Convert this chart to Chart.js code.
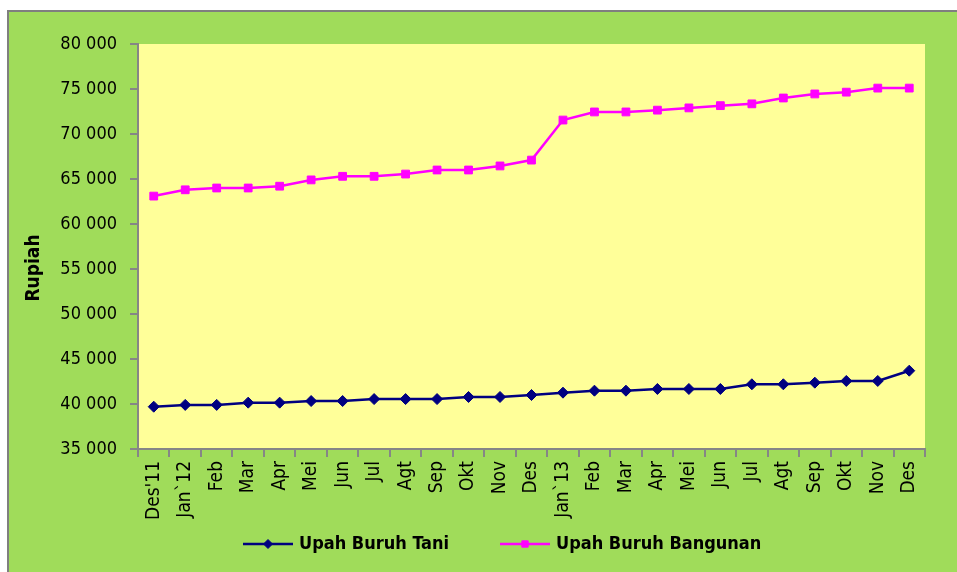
<!DOCTYPE html>
<html>
<head>
<meta charset="utf-8">
<script src="https://cdn.jsdelivr.net/npm/chart.js@4.4.1/dist/chart.umd.min.js"></script>
<style>
  html, body { margin: 0; padding: 0; background: #fff; overflow: hidden; }
  #frame {
    position: absolute; left: 7px; top: 10px; width: 980px; height: 600px;
    background: #a0dc5a; border-left: 2px solid #7f7f7f; border-top: 2px solid #7f7f7f;
  }
  #chart { position: absolute; left: 0; top: 0; }
</style>
</head>
<body>
<div id="frame"></div>
<canvas id="chart" width="957" height="572"></canvas>
<script>
const months = ["Des'11", 'Jan`12', 'Feb', 'Mar', 'Apr', 'Mei', 'Jun', 'Jul', 'Agt', 'Sep', 'Okt', 'Nov', 'Des',
  'Jan`13', 'Feb', 'Mar', 'Apr', 'Mei', 'Jun', 'Jul', 'Agt', 'Sep', 'Okt', 'Nov', 'Des'];

const upahTani = [39700, 39900, 39900, 40150, 40150, 40330, 40330, 40550, 40550, 40550, 40780, 40780, 41000,
  41260, 41480, 41480, 41670, 41670, 41670, 42190, 42190, 42370, 42560, 42560, 43700];

const upahBangunan = [63100, 63800, 64000, 64000, 64200, 64900, 65300, 65300, 65550, 66000, 66000, 66450, 67100,
  71550, 72450, 72450, 72650, 72900, 73150, 73350, 74000, 74450, 74650, 75100, 75100];

const yMin = 35000;
const yMax = 80000;
const yStep = 5000;

const FONT = '"DejaVu Sans Condensed", "DejaVu Sans", sans-serif';
const AXIS_GREY = '#868686';

// y title and legend drawn by hand so they sit where the original has them
const extras = {
  id: 'extras',
  afterDraw(chart) {
    const ctx = chart.ctx;
    ctx.save();
    ctx.fillStyle = '#000';
    ctx.font = 'bold 19px ' + FONT;
    ctx.textAlign = 'center';
    ctx.textBaseline = 'middle';
    ctx.translate(34, 268);
    ctx.rotate(-Math.PI / 2);
    ctx.fillText('Rupiah', 0, 0);
    ctx.restore();

    const starts = [243, 500];
    const y = 544;
    chart.data.datasets.forEach((ds, i) => {
      const x = starts[i];
      ctx.save();
      ctx.strokeStyle = ds.borderColor;
      ctx.lineWidth = ds.borderWidth;
      ctx.beginPath();
      ctx.moveTo(x, y);
      ctx.lineTo(x + 50, y);
      ctx.stroke();
      ctx.fillStyle = ds.pointBackgroundColor;
      ctx.strokeStyle = ds.pointBorderColor;
      ctx.lineWidth = 1;
      Chart.helpers.drawPoint(ctx, { pointStyle: ds.pointStyle, radius: ds.pointRadius - 1, borderWidth: 1 }, x + 25, y);
      ctx.fillStyle = '#000';
      ctx.font = 'bold 18px ' + FONT;
      ctx.textAlign = 'left';
      ctx.textBaseline = 'middle';
      ctx.fillText(ds.label, x + 56, y);
      ctx.restore();
    });
  }
};

const plotBg = {
  id: 'plotBg',
  beforeDraw(chart) {
    const a = chart.chartArea;
    chart.ctx.save();
    chart.ctx.fillStyle = '#ffff99';
    chart.ctx.fillRect(a.left, a.top, a.right - a.left, a.bottom - a.top);
    chart.ctx.restore();
  }
};

new Chart(document.getElementById('chart').getContext('2d'), {
  type: 'line',
  data: {
    labels: months,
    datasets: [{
      label: 'Upah Buruh Tani',
      data: upahTani,
      borderColor: '#000080',
      backgroundColor: '#000080',
      pointBackgroundColor: '#000080',
      pointBorderColor: '#000080',
      pointStyle: 'rectRot',
      pointRadius: 5.5,
      pointBorderWidth: 1,
      borderWidth: 2.5,
      tension: 0
    }, {
      label: 'Upah Buruh Bangunan',
      data: upahBangunan,
      borderColor: '#ff00ff',
      backgroundColor: '#ff00ff',
      pointBackgroundColor: '#ff00ff',
      pointBorderColor: '#ff00ff',
      pointStyle: 'rect',
      pointRadius: 5.5,
      pointBorderWidth: 1,
      borderWidth: 2.5,
      tension: 0
    }]
  },
  options: {
    responsive: false,
    animation: false,
    devicePixelRatio: 1,
    layout: { padding: { left: 0, top: 44, right: 32, bottom: 0 } },
    plugins: {
      legend: { display: false },
      tooltip: { enabled: false }
    },
    scales: {
      x: {
        offset: true,
        afterFit: function (scale) { scale.height = 123; },
        grid: {
          offset: true,
          drawOnChartArea: false,
          drawTicks: true,
          tickLength: 8,
          color: AXIS_GREY,
          lineWidth: 2
        },
        border: { display: true, color: AXIS_GREY, width: 2 },
        ticks: {
          color: '#000',
          font: { family: FONT, size: 19 },
          maxRotation: 90,
          minRotation: 90,
          autoSkip: false,
          padding: 4
        }
      },
      y: {
        min: yMin,
        max: yMax,
        afterFit: function (scale) { scale.width = 138; },
        grid: {
          drawOnChartArea: false,
          drawTicks: true,
          tickLength: 8,
          color: AXIS_GREY,
          lineWidth: 2
        },
        border: { display: true, color: AXIS_GREY, width: 2 },
        ticks: {
          stepSize: yStep,
          color: '#000',
          font: { family: FONT, size: 18 },
          padding: 13,
          callback: function (v) {
            return String(v).replace(/\B(?=(\d{3})+(?!\d))/g, ' ');
          }
        }
      }
    }
  },
  plugins: [plotBg, extras]
});
</script>
</body>
</html>
